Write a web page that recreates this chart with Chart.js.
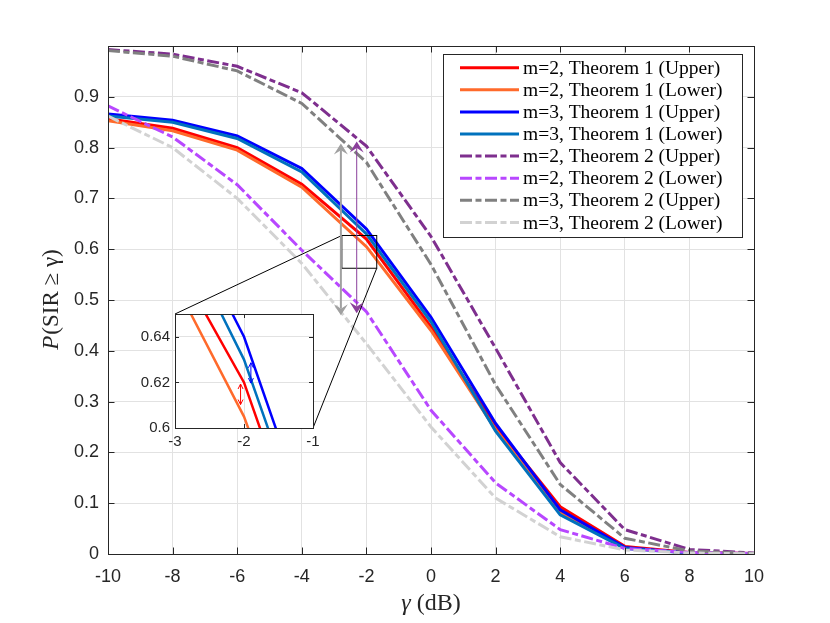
<!DOCTYPE html>
<html lang="en">
<head>
<meta charset="UTF-8">
<title>P(SIR &ge; &gamma;) vs &gamma;</title>
<script src="https://cdn.jsdelivr.net/npm/chart.js"></script>
<style>
    body { margin: 0; background: #fff; }
    #wrap { position: relative; width: 830px; height: 623px; }
    #main { position: absolute; left: 0; top: 0; }
    #inset { position: absolute; left: 120px; top: 300px; }
</style>
</head>
<body>
<div id="wrap">
    <canvas id="main" width="830" height="623"></canvas>
    <canvas id="inset" width="210" height="160"></canvas>
</div>
<script>
// gamma in dB
var gammaDb = [-10, -8, -6, -4, -2, 0, 2, 4, 6, 8, 10];

// coverage probability
var m2Thm1Upper = [0.857, 0.838, 0.800, 0.728, 0.620, 0.447, 0.252, 0.093, 0.015, 0.003, 0.001];
var m2Thm1Lower = [0.853, 0.833, 0.795, 0.722, 0.605, 0.440, 0.245, 0.082, 0.012, 0.002, 0.0005];
var m3Thm1Upper = [0.866, 0.854, 0.823, 0.759, 0.640, 0.466, 0.257, 0.087, 0.013, 0.002, 0.0005];
var m3Thm1Lower = [0.862, 0.850, 0.818, 0.752, 0.630, 0.457, 0.242, 0.077, 0.011, 0.002, 0.0004];
var m2Thm2Upper = [0.993, 0.984, 0.960, 0.908, 0.803, 0.625, 0.405, 0.180, 0.048, 0.009, 0.002];
var m2Thm2Lower = [0.882, 0.821, 0.727, 0.598, 0.477, 0.283, 0.140, 0.048, 0.011, 0.003, 0.001];
var m3Thm2Upper = [0.991, 0.980, 0.951, 0.887, 0.771, 0.570, 0.333, 0.137, 0.031, 0.006, 0.001];
var m3Thm2Lower = [0.862, 0.800, 0.700, 0.572, 0.414, 0.250, 0.110, 0.034, 0.008, 0.002, 0.0005];

var seriesNames = [
    'm=2, Theorem 1 (Upper)', 'm=2, Theorem 1 (Lower)',
    'm=3, Theorem 1 (Upper)', 'm=3, Theorem 1 (Lower)',
    'm=2, Theorem 2 (Upper)', 'm=2, Theorem 2 (Lower)',
    'm=3, Theorem 2 (Upper)', 'm=3, Theorem 2 (Lower)'
];
var seriesValues = [m2Thm1Upper, m2Thm1Lower, m3Thm1Upper, m3Thm1Lower,
                    m2Thm2Upper, m2Thm2Lower, m3Thm2Upper, m3Thm2Lower];

var mainYTicks = [0, 0.1, 0.2, 0.3, 0.4, 0.5, 0.6, 0.7, 0.8, 0.9];
var mainXTicks = [-10, -8, -6, -4, -2, 0, 2, 4, 6, 8, 10];

// styles
var seriesColors = ['#ff0000', '#ff6a2b', '#0000ff', '#0072bd', '#7e2f8e', '#b847ff', '#808080', '#d2d2d2'];
var dashDot = [12, 3.5, 6, 3.5];
var seriesDash = [[], [], [], [], dashDot, dashDot, dashDot, dashDot];

var axisColor = '#262626';
var gridColor = '#e2e2e2';
var sansFont = '"Liberation Sans", Arial, sans-serif';
var serifFont = '"Liberation Serif", "Times New Roman", serif';

function makeDatasets(width) {
    return seriesNames.map(function (name, i) {
        return {
            label: name,
            data: gammaDb.map(function (g, k) { return { x: g, y: seriesValues[i][k] }; }),
            borderColor: seriesColors[i],
            borderDash: seriesDash[i],
            borderWidth: width,
            pointRadius: 0,
            fill: false,
            tension: 0,
            order: seriesNames.length - i
        };
    });
}

function drawArrow(ctx, x, yTop, yBot, color, lw, headW, headL, filled) {
    ctx.save();
    ctx.strokeStyle = color;
    ctx.fillStyle = color;
    ctx.lineWidth = lw;
    ctx.setLineDash([]);
    ctx.beginPath();
    ctx.moveTo(x, yTop + (filled ? headL * 0.6 : 0));
    ctx.lineTo(x, yBot - (filled ? headL * 0.6 : 0));
    ctx.stroke();
    [[yTop, 1], [yBot, -1]].forEach(function (h) {
        ctx.beginPath();
        ctx.moveTo(x - headW / 2, h[0] + h[1] * headL);
        ctx.lineTo(x, h[0]);
        ctx.lineTo(x + headW / 2, h[0] + h[1] * headL);
        if (filled) {
            ctx.lineTo(x, h[0] + h[1] * headL * 0.6);
            ctx.closePath();
            ctx.fill();
        } else {
            ctx.stroke();
        }
    });
    ctx.restore();
}

function drawBoxAndTicks(chart, len) {
    var ctx = chart.ctx, a = chart.chartArea, sx = chart.scales.x, sy = chart.scales.y;
    ctx.save();
    ctx.strokeStyle = axisColor;
    ctx.lineWidth = 1;
    ctx.setLineDash([]);
    ctx.beginPath();
    sx.ticks.forEach(function (t) {
        var px = Math.round(sx.getPixelForValue(t.value)) + 0.5;
        ctx.moveTo(px, a.bottom); ctx.lineTo(px, a.bottom - len);
        ctx.moveTo(px, a.top); ctx.lineTo(px, a.top + len);
    });
    sy.ticks.forEach(function (t) {
        var py = Math.round(sy.getPixelForValue(t.value)) + 0.5;
        ctx.moveTo(a.left, py); ctx.lineTo(a.left + len, py);
        ctx.moveTo(a.right, py); ctx.lineTo(a.right - len, py);
    });
    ctx.stroke();
    ctx.strokeRect(Math.round(a.left) + 0.5, Math.round(a.top) + 0.5,
                   Math.round(a.right - a.left), Math.round(a.bottom - a.top));
    ctx.restore();
}

var whiteArea = {
    id: 'whiteArea',
    beforeDraw: function (chart) {
        var a = chart.chartArea;
        chart.ctx.save();
        chart.ctx.fillStyle = '#ffffff';
        chart.ctx.fillRect(a.left, a.top, a.right - a.left, a.bottom - a.top);
        chart.ctx.restore();
    }
};

// ---------- inset (zoom of -3..-1 dB) ----------
var insetChart = new Chart(document.getElementById('inset'), {
    type: 'line',
    data: { datasets: makeDatasets(2.5).map(function (d) { d.clip = 0; return d; }) },
    options: {
        responsive: false,
        animation: false,
        layout: { padding: { top: 11, right: 17, left: 0, bottom: 0 } },
        plugins: { legend: { display: false }, tooltip: { enabled: false } },
        scales: {
            x: {
                type: 'linear', min: -3, max: -1,
                afterFit: function (s) { s.height = 32; },
                grid: { color: gridColor, drawTicks: false },
                border: { display: false },
                ticks: { stepSize: 1, padding: 5, maxRotation: 0, color: axisColor,
                         font: { family: sansFont, size: 15 } }
            },
            y: {
                type: 'linear', min: 0.6, max: 0.65,
                afterBuildTicks: function (s) { s.ticks = s.ticks.filter(function (t) { return t.value < 0.649; }); },
                afterFit: function (s) { s.width = 55; },
                grid: { color: gridColor, drawTicks: false },
                border: { display: false },
                ticks: { stepSize: 0.02, padding: 5, color: axisColor,
                         font: { family: sansFont, size: 15 },
                         callback: function (v) { return String(Math.round(v * 1000) / 1000); } }
            }
        }
    },
    plugins: [whiteArea, {
        id: 'insetMarks',
        afterDraw: function (chart) {
            var sx = chart.scales.x, sy = chart.scales.y, ctx = chart.ctx;
            // gaps between upper and lower bounds
            drawArrow(ctx, sx.getPixelForValue(-2.05), sy.getPixelForValue(0.6193), sy.getPixelForValue(0.6103),
                      '#ff0000', 1, 5, 5, false);
            drawArrow(ctx, sx.getPixelForValue(-1.9), sy.getPixelForValue(0.6286), sy.getPixelForValue(0.6197),
                      '#0000ff', 1, 5, 5, false);
            drawBoxAndTicks(chart, 4);
        }
    }]
});

// ---------- main chart ----------
var mainAnnotations = {
    id: 'mainAnnotations',
    afterDraw: function (chart) {
        var ctx = chart.ctx, a = chart.chartArea, sx = chart.scales.x, sy = chart.scales.y;
        var insetEl = document.getElementById('inset');
        var ia = insetChart.chartArea;
        var ox = insetEl.offsetLeft, oy = insetEl.offsetTop;

        // zoom window and connectors
        var rx1 = sx.getPixelForValue(-2.76), rx2 = sx.getPixelForValue(-1.68);
        var ry1 = sy.getPixelForValue(0.627), ry2 = sy.getPixelForValue(0.5625);
        ctx.save();
        ctx.strokeStyle = '#000000';
        ctx.lineWidth = 1;
        ctx.setLineDash([]);
        ctx.strokeRect(rx1, ry1, rx2 - rx1, ry2 - ry1);
        ctx.beginPath();
        ctx.moveTo(rx1, ry1); ctx.lineTo(ox + ia.left, oy + ia.top);
        ctx.moveTo(rx2, ry2); ctx.lineTo(ox + ia.right, oy + ia.bottom);
        ctx.stroke();
        ctx.restore();

        // Theorem 2 gaps
        drawArrow(ctx, sx.getPixelForValue(-2.79), sy.getPixelForValue(0.808), sy.getPixelForValue(0.47),
                  '#a0a0a0', 2, 14, 11, true);
        drawArrow(ctx, sx.getPixelForValue(-2.30), sy.getPixelForValue(0.812), sy.getPixelForValue(0.474),
                  '#8b3f9b', 1, 14, 11, true);

        drawBoxAndTicks(chart, 6.5);

        // legend
        var lx = 443, ly = 54, lw = 299, lh = 183, rowH = 22.1, row0 = 67.7;
        ctx.save();
        ctx.fillStyle = '#ffffff';
        ctx.fillRect(lx, ly, lw, lh);
        ctx.strokeStyle = axisColor;
        ctx.lineWidth = 1;
        ctx.strokeRect(lx + 0.5, ly + 0.5, lw, lh);
        ctx.font = '19.5px ' + serifFont;
        ctx.textBaseline = 'middle';
        ctx.fillStyle = '#000000';
        seriesNames.forEach(function (name, i) {
            var yy = row0 + i * rowH;
            ctx.strokeStyle = seriesColors[i];
            ctx.lineWidth = 3;
            ctx.setLineDash(seriesDash[i]);
            ctx.beginPath();
            ctx.moveTo(460, yy); ctx.lineTo(519, yy);
            ctx.stroke();
            ctx.setLineDash([]);
            ctx.fillText(name, 523, yy + 1);
        });
        ctx.restore();

        // axis titles
        ctx.save();
        ctx.fillStyle = axisColor;
        ctx.textBaseline = 'alphabetic';
        var fy = '23px ' + serifFont, fyi = 'italic 23px ' + serifFont;
        ctx.font = fyi; var wP = ctx.measureText('P').width;
        ctx.font = fy; var rest = '(SIR \u2265 \u03b3)'; var wR = ctx.measureText(rest).width;
        ctx.translate(58, (a.top + a.bottom) / 2);
        ctx.rotate(-Math.PI / 2);
        var start = -(wP + wR) / 2;
        ctx.font = fyi; ctx.fillText('P', start, 0);
        ctx.font = fy; ctx.fillText(rest, start + wP + 1, 0);
        ctx.restore();

        ctx.save();
        ctx.fillStyle = axisColor;
        ctx.textBaseline = 'alphabetic';
        var fx = '24px ' + serifFont, fxi = 'italic 24px ' + serifFont;
        ctx.font = fxi; var wG = ctx.measureText('\u03b3').width;
        ctx.font = fx; var wD = ctx.measureText(' (dB)').width;
        var sxp = (a.left + a.right) / 2 - (wG + wD) / 2;
        ctx.font = fxi; ctx.fillText('\u03b3', sxp, 610);
        ctx.font = fx; ctx.fillText(' (dB)', sxp + wG, 610);
        ctx.restore();
    }
};

var mainChart = new Chart(document.getElementById('main'), {
    type: 'line',
    data: { datasets: makeDatasets(3) },
    options: {
        responsive: false,
        animation: false,
        layout: { padding: { top: 46, right: 76, left: 0, bottom: 0 } },
        plugins: { legend: { display: false }, tooltip: { enabled: false } },
        scales: {
            x: {
                type: 'linear', min: -10, max: 10,
                afterBuildTicks: function (s) { s.ticks = mainXTicks.map(function (v) { return { value: v }; }); },
                afterFit: function (s) { s.height = 69; },
                grid: { color: gridColor, drawTicks: false },
                border: { display: false },
                ticks: { padding: 12, maxRotation: 0, autoSkip: false, color: axisColor,
                         font: { family: sansFont, size: 18 } }
            },
            y: {
                type: 'linear', min: 0, max: 1,
                afterBuildTicks: function (s) { s.ticks = mainYTicks.map(function (v) { return { value: v }; }); },
                afterFit: function (s) { s.width = 108; },
                grid: { color: gridColor, drawTicks: false },
                border: { display: false },
                ticks: { padding: 9, color: axisColor,
                         font: { family: sansFont, size: 18 },
                         callback: function (v) { return String(Math.round(v * 100) / 100); } }
            }
        }
    },
    plugins: [mainAnnotations]
});
</script>
</body>
</html>
